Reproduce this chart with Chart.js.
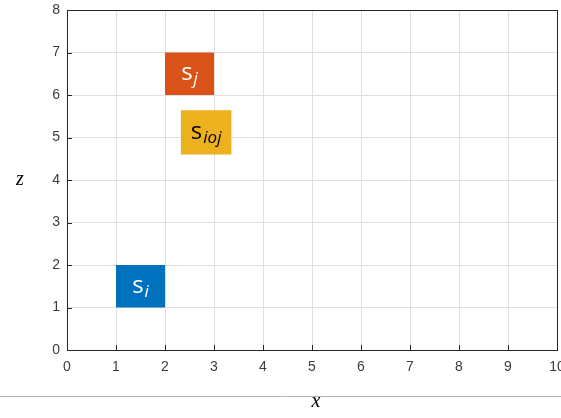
<!DOCTYPE html>
<html>
<head>
<meta charset="utf-8">
<script src="https://cdn.jsdelivr.net/npm/chart.js@4"></script>
<style>
  html, body { margin: 0; padding: 0; background: #fff; }
  #wrap { width: 561px; height: 418px; }
</style>
</head>
<body>
<div id="wrap"><canvas id="c" width="561" height="418"></canvas></div>
<script>
// Sets shown on the x–z plane: [xMin, xMax, zMin, zMax]
const setNames = ['i', 'j', 'ioj'];
const setBoxes = [
  [1, 2, 1, 2],
  [2, 3, 6, 7],
  [2.32, 3.36, 4.6, 5.64]
];
const setColors = ['#0072BD', '#D95319', '#EDB120'];
const labelColors = ['#ffffff', '#ffffff', '#000000'];
const xTicks = [0, 1, 2, 3, 4, 5, 6, 7, 8, 9, 10];
const zTicks = [0, 1, 2, 3, 4, 5, 6, 7, 8];

// Each box = top edge filled down to its bottom edge
const datasets = [];
setBoxes.forEach((b, k) => {
  datasets.push({
    label: 'top-' + setNames[k],
    data: [{ x: b[0], y: b[3] }, { x: b[1], y: b[3] }],
    borderWidth: 0, pointRadius: 0, showLine: true,
    borderColor: setColors[k], backgroundColor: setColors[k], fill: false
  });
  datasets.push({
    label: 'bottom-' + setNames[k],
    data: [{ x: b[0], y: b[2] }, { x: b[1], y: b[2] }],
    borderWidth: 0, pointRadius: 0, showLine: true,
    borderColor: setColors[k], backgroundColor: setColors[k], fill: '-1'
  });
});

const frame = {
  id: 'frame',
  afterDatasetsDraw(chart) {
    const { ctx, chartArea: a, scales } = chart;
    ctx.save();
    // inward tick marks
    ctx.strokeStyle = '#262626';
    ctx.lineWidth = 1;
    ctx.beginPath();
    xTicks.forEach(v => {
      const px = Math.round(scales.x.getPixelForValue(v)) + 0.5;
      ctx.moveTo(px, a.bottom); ctx.lineTo(px, a.bottom - 5);
    });
    zTicks.forEach(v => {
      const py = Math.round(scales.y.getPixelForValue(v)) + 0.5;
      ctx.moveTo(a.left, py); ctx.lineTo(a.left + 5, py);
    });
    ctx.stroke();
    // box outline
    ctx.strokeRect(Math.round(a.left) + 0.5, Math.round(a.top) + 0.5,
                   Math.round(a.right - a.left), Math.round(a.bottom - a.top));

    // set labels: "s" with italic subscript
    const mainFont = '24px "Open Sans", sans-serif';
    const subFont = 'italic 17px "Open Sans", sans-serif';
    setBoxes.forEach((b, k) => {
      const cx = scales.x.getPixelForValue((b[0] + b[1]) / 2);
      const cy = scales.y.getPixelForValue((b[2] + b[3]) / 2);
      ctx.fillStyle = labelColors[k];
      ctx.textBaseline = 'alphabetic';
      ctx.textAlign = 'left';
      ctx.font = mainFont;
      const sW = ctx.measureText('s').width;
      ctx.font = subFont;
      const subW = ctx.measureText(setNames[k]).width;
      const x0 = cx - (sW + subW + 1) / 2;
      ctx.font = mainFont;
      ctx.fillText('s', x0, cy + 6.5);
      ctx.font = subFont;
      ctx.fillText(setNames[k], x0 + sW + 1, cy + 10.5);
    });

    // separator and axis names
    ctx.strokeStyle = '#b4b4b4';
    ctx.beginPath();
    ctx.moveTo(0, 396.5); ctx.lineTo(chart.width, 396.5);
    ctx.stroke();
    ctx.fillStyle = '#000';
    ctx.font = 'italic 20px "Liberation Serif", serif';
    ctx.textAlign = 'center';
    ctx.textBaseline = 'alphabetic';
    ctx.fillText('x', (a.left + a.right) / 2 + 4, 407);
    ctx.fillText('z', 20, 185);
    ctx.restore();
  }
};

new Chart(document.getElementById('c'), {
  type: 'scatter',
  data: { datasets },
  plugins: [frame],
  options: {
    responsive: false,
    animation: false,
    layout: { padding: { left: 0, right: 4, top: 10, bottom: 0 } },
    plugins: { legend: { display: false }, tooltip: { enabled: false } },
    scales: {
      x: {
        type: 'linear', min: 0, max: 10,
        afterBuildTicks: s => { s.ticks = xTicks.map(v => ({ value: v })); },
        afterFit: s => { s.height = 68; s.paddingLeft = 0; s.paddingRight = 0; },
        grid: { color: '#dfdfdf', drawTicks: false },
        border: { display: false },
        ticks: { padding: 9, color: '#3c3c3c', maxRotation: 0,
                 font: { family: '"Liberation Sans", Arial, sans-serif', size: 14 } }
      },
      y: {
        type: 'linear', min: 0, max: 8,
        afterBuildTicks: s => { s.ticks = zTicks.map(v => ({ value: v })); },
        afterFit: s => { s.width = 67; s.paddingTop = 0; s.paddingBottom = 0; },
        grid: { color: '#dfdfdf', drawTicks: false },
        border: { display: false },
        ticks: { padding: 7, color: '#3c3c3c',
                 font: { family: '"Liberation Sans", Arial, sans-serif', size: 14 } }
      }
    }
  }
});
</script>
</body>
</html>
